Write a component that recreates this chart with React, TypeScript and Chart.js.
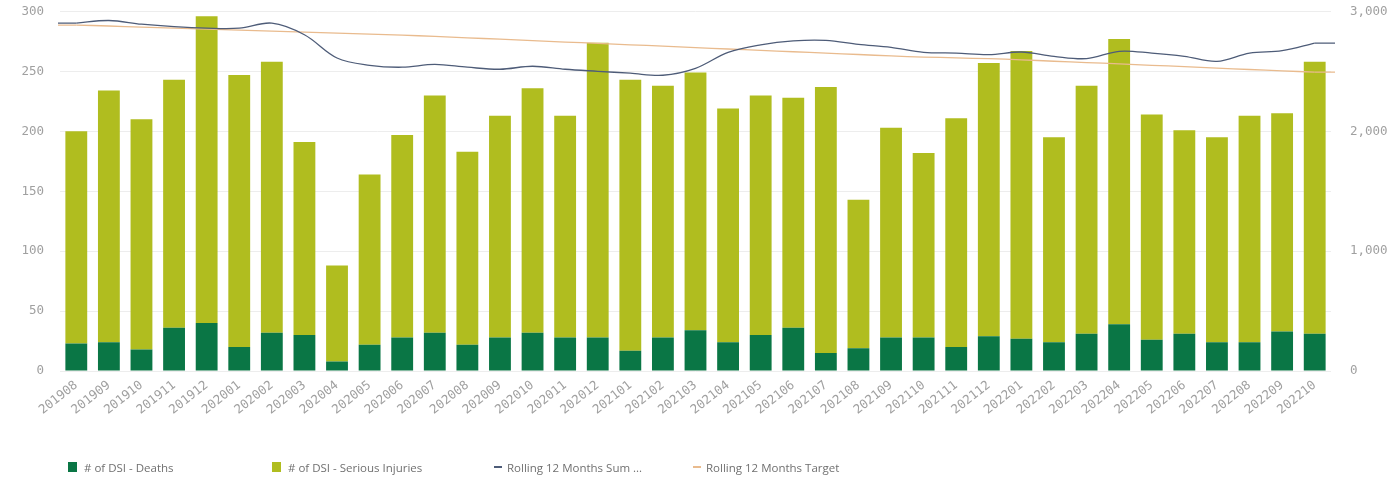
import React, { useEffect, useRef } from "react";
import { Chart, registerables } from "chart.js";

Chart.register(...registerables);

const months = [
  "201908", "201909", "201910", "201911", "201912",
  "202001", "202002", "202003", "202004", "202005", "202006", "202007", "202008", "202009", "202010", "202011", "202012",
  "202101", "202102", "202103", "202104", "202105", "202106", "202107", "202108", "202109", "202110", "202111", "202112",
  "202201", "202202", "202203", "202204", "202205", "202206", "202207", "202208", "202209", "202210",
];

const deaths = [
  23, 24, 18, 36, 40, 20, 32, 30, 8, 22,
  28, 32, 22, 28, 32, 28, 28, 17, 28, 34,
  24, 30, 36, 15, 19, 28, 28, 20, 29, 27,
  24, 31, 39, 26, 31, 24, 24, 33, 31,
];

const seriousInjuries = [
  177, 210, 192, 207, 256, 227, 226, 161, 80, 142,
  169, 198, 161, 185, 204, 185, 246, 226, 210, 215,
  195, 200, 192, 222, 124, 175, 154, 191, 228, 240,
  171, 207, 238, 188, 170, 171, 189, 182, 227,
];

const rollingSum = [
  2903, 2925, 2894, 2873, 2861, 2861, 2903, 2806, 2612, 2551,
  2535, 2559, 2535, 2518, 2543, 2518, 2501, 2485, 2468, 2526,
  2659, 2722, 2755, 2759, 2726, 2701, 2659, 2653, 2640, 2662,
  2626, 2607, 2668, 2653, 2626, 2584, 2653, 2673, 2736,
];

const rollingTarget = [
  2887, 2879, 2870, 2862, 2853, 2845, 2837, 2828, 2820, 2812,
  2803, 2792, 2780, 2769, 2757, 2745, 2734, 2722, 2711, 2699,
  2687, 2676, 2664, 2653, 2641, 2629, 2620, 2613, 2606, 2597,
  2585, 2574, 2563, 2551, 2540, 2528, 2516, 2505, 2494,
];

const seriesNames = [
  "# of DSI - Deaths",
  "# of DSI - Serious Injuries",
  "Rolling 12 Months Sum ...",
  "Rolling 12 Months Target",
];

const COLORS = {
  deaths: "#0a7645",
  serious: "#b0bd1f",
  sum: "#4e5c78",
  target: "#e9bb8e",
};

const tickFont = { family: "DejaVu Sans Mono", size: 12.5 };
const tickColor = "#a0a0a0";

const extendLines = {
  id: "extendLines",
  afterDatasetsDraw(chart: any) {
    const { ctx, chartArea } = chart;
    chart.data.datasets.forEach((ds: any, i: number) => {
      if (ds.type !== "line") return;
      const pts = chart.getDatasetMeta(i).data;
      if (!pts.length) return;
      const first = pts[0];
      const last = pts[pts.length - 1];
      ctx.save();
      ctx.strokeStyle = ds.borderColor;
      ctx.lineWidth = ds.borderWidth;
      ctx.beginPath();
      ctx.moveTo(chartArea.left - 2, first.y);
      ctx.lineTo(first.x, first.y);
      ctx.moveTo(last.x, last.y);
      ctx.lineTo(chartArea.right + 4, last.y);
      ctx.stroke();
      ctx.restore();
    });
  },
};

const CANVAS_H = 495;
const CANVAS_SHIFT = -15;

export default function App() {
  const canvasRef = useRef<HTMLCanvasElement | null>(null);

  useEffect(() => {
    if (!canvasRef.current) return;
    const chart = new Chart(canvasRef.current, {
      type: "bar",
      data: {
        labels: months,
        datasets: [
          {
            type: "line",
            label: seriesNames[2],
            data: rollingSum,
            yAxisID: "y1",
            borderColor: COLORS.sum,
            borderWidth: 1.3,
            pointRadius: 0,
            tension: 0.35,
            order: 0,
          } as any,
          {
            type: "line",
            label: seriesNames[3],
            data: rollingTarget,
            yAxisID: "y1",
            borderColor: COLORS.target,
            borderWidth: 1.3,
            pointRadius: 0,
            tension: 0.3,
            order: 0,
          } as any,
          {
            type: "bar",
            label: seriesNames[0],
            data: deaths,
            yAxisID: "y",
            backgroundColor: COLORS.deaths,
            barPercentage: 0.67,
            categoryPercentage: 1,
            stack: "dsi",
            order: 1,
          },
          {
            type: "bar",
            label: seriesNames[1],
            data: seriousInjuries,
            yAxisID: "y",
            backgroundColor: COLORS.serious,
            barPercentage: 0.67,
            categoryPercentage: 1,
            stack: "dsi",
            order: 1,
          },
        ],
      },
      options: {
        responsive: false,
        animation: false,
        devicePixelRatio: 1,
        layout: { padding: { top: 10, left: 0, right: 0, bottom: 0 } },
        plugins: {
          legend: { display: false },
          tooltip: { enabled: false },
        },
        scales: {
          x: {
            stacked: true,
            grid: { display: false, drawTicks: false },
            border: { display: false },
            ticks: {
              color: tickColor,
              font: tickFont,
              autoSkip: false,
              minRotation: 38,
              maxRotation: 38,
              padding: 7,
            },
            afterFit: (s: any) => {
              s.height = 109;
            },
          },
          y: {
            stacked: true,
            position: "left",
            min: 0,
            max: 300,
            ticks: {
              stepSize: 50,
              color: tickColor,
              font: tickFont,
              padding: 16,
            },
            grid: { color: "#ededed", drawTicks: false },
            border: { display: false },
            afterFit: (s: any) => {
              s.width = 60;
            },
          },
          y1: {
            position: "right",
            min: 0,
            max: 3000,
            ticks: {
              stepSize: 1000,
              color: tickColor,
              font: tickFont,
              padding: 19,
              callback: (v: any) => Number(v).toLocaleString("en-US"),
            },
            grid: { display: false, drawTicks: false },
            border: { display: false },
            afterFit: (s: any) => {
              s.width = 59;
            },
          },
        },
      },
      plugins: [extendLines],
    });
    return () => chart.destroy();
  }, []);

  const legendItems = [
    { left: 68, text: seriesNames[0], color: COLORS.deaths, kind: "box" },
    { left: 272, text: seriesNames[1], color: COLORS.serious, kind: "box" },
    { left: 494, text: seriesNames[2], color: COLORS.sum, kind: "line" },
    { left: 693, text: seriesNames[3], color: COLORS.target, kind: "line" },
  ];

  return (
    <div
      style={{
        position: "fixed",
        left: 0,
        top: 0,
        width: 1390,
        height: 480,
        background: "#ffffff",
        overflow: "hidden",
      }}
    >
      <canvas
        ref={canvasRef}
        width={1390}
        height={CANVAS_H}
        style={{ position: "absolute", left: 0, top: CANVAS_SHIFT, display: "block", width: 1390, height: CANVAS_H }}
      />
      {legendItems.map((it) => (
        <div
          key={it.text}
          style={{
            position: "absolute",
            left: it.left,
            top: 459,
            height: 16,
            display: "flex",
            alignItems: "center",
            fontFamily: "'Open Sans', sans-serif",
            fontSize: 11.5,
            color: "#707070",
            whiteSpace: "nowrap",
          }}
        >
          {it.kind === "box" ? (
            <span style={{ display: "inline-block", width: 9, height: 10, background: it.color, marginRight: 7 }} />
          ) : (
            <span style={{ display: "inline-block", width: 8, height: 2, background: it.color, marginRight: 5 }} />
          )}
          <span>{it.text}</span>
        </div>
      ))}
    </div>
  );
}
